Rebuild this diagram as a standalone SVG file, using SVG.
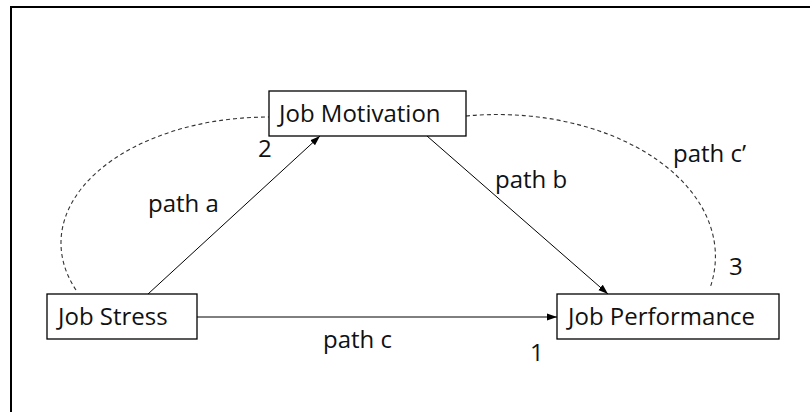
<svg xmlns="http://www.w3.org/2000/svg" width="810" height="412" viewBox="0 0 810 412">
<style>
  .box { fill: #fff; stroke: #000; stroke-width: 1.3; }
  .lbl { font-family: "Open Sans", "Liberation Sans", sans-serif; font-size: 24px; fill: #111; }
  .edge { stroke: #000; stroke-width: 1; fill: none; }
  .dash { stroke: #333; stroke-width: 1.1; fill: none; stroke-dasharray: 4 3; }
</style>
<defs>
  <marker id="arr" viewBox="0 0 10 10" refX="10" refY="5" markerWidth="10" markerHeight="10" markerUnits="userSpaceOnUse" orient="auto">
    <path d="M0,1.5 L10,5 L0,8.5 z" fill="#000"/>
  </marker>
</defs>
<rect width="810" height="412" fill="#fff"/>
<path d="M11,412 V7 H810" fill="none" stroke="#000" stroke-width="2"/>
<g id="connectors">
  <path class="dash" d="M 76 290 A 208 126 0 0 1 269 117"/>
  <path class="dash" d="M 466 116 A 218 142 0 0 1 710 288"/>
  <line class="edge" x1="197" y1="317" x2="557" y2="317" marker-end="url(#arr)"/>
  <line class="edge" x1="148" y1="294" x2="320" y2="136" marker-end="url(#arr)"/>
  <line class="edge" x1="427" y1="136" x2="608" y2="294" marker-end="url(#arr)"/>
  <text class="lbl" x="148" y="212">path a</text>
  <text class="lbl" x="258" y="157">2</text>
  <text class="lbl" x="495" y="188">path b</text>
  <text class="lbl" x="673" y="162">path c’</text>
  <text class="lbl" x="729" y="275">3</text>
  <text class="lbl" x="323" y="348">path c</text>
  <text class="lbl" x="530" y="361">1</text>
</g>
<g id="job-motivation">
  <rect class="box" x="269" y="91" width="197" height="45"/>
  <text class="lbl" x="279" y="122">Job Motivation</text>
</g>
<g id="job-stress">
  <rect class="box" x="47" y="294" width="150" height="45"/>
  <text class="lbl" x="58" y="325">Job Stress</text>
</g>
<g id="job-performance">
  <rect class="box" x="557" y="294" width="222" height="45"/>
  <text class="lbl" x="568" y="325">Job Performance</text>
</g>
</svg>
